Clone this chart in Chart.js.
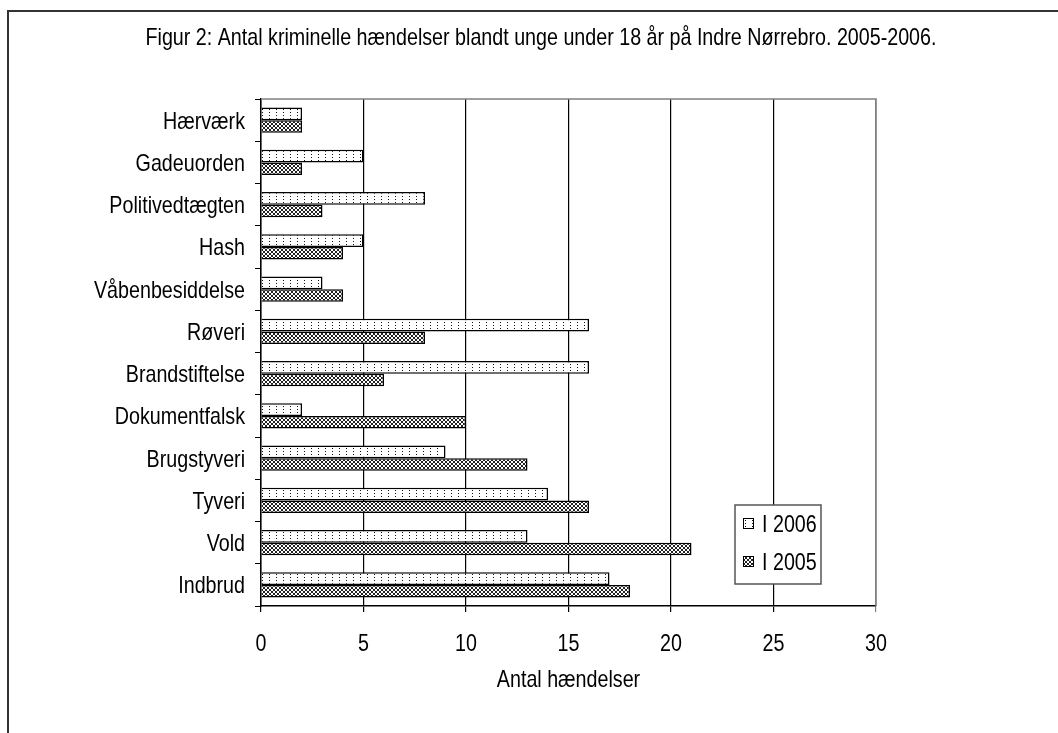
<!DOCTYPE html>
<html>
<head>
<meta charset="utf-8">
<script src="https://cdn.jsdelivr.net/npm/chart.js@4.4.1/dist/chart.umd.min.js"></script>
<style>
  html, body { margin: 0; padding: 0; background: #fff; }
  #wrap { position: relative; width: 1058px; height: 733px; overflow: hidden; }
  #frame { position: absolute; left: 7px; top: 10px; width: 1200px; height: 900px; border-left: 2px solid #333; border-top: 2px solid #333; box-sizing: border-box; }
  canvas { position: absolute; left: 0; top: 0; }
</style>
</head>
<body>
<div id="wrap">
  <div id="frame"></div>
  <canvas id="c" width="1058" height="733"></canvas>
</div>
<script>
const titleText = "Figur 2: Antal kriminelle hændelser blandt unge under 18 år på Indre Nørrebro. 2005-2006.";
const categories = ["Hærværk", "Gadeuorden", "Politivedtægten", "Hash", "Våbenbesiddelse", "Røveri", "Brandstiftelse", "Dokumentfalsk", "Brugstyveri", "Tyveri", "Vold", "Indbrud"];
const seriesNames = ["I 2006", "I 2005"];
const values2006 = [2, 5, 8, 5, 3, 16, 16, 2, 9, 14, 13, 17];
const values2005 = [2, 2, 3, 4, 4, 8, 6, 10, 13, 16, 21, 18];
const xTicks = [0, 5, 10, 15, 20, 25, 30];
const xAxisTitle = "Antal hændelser";

const FONT = '"Liberation Sans", Arial, Helvetica, sans-serif';
const NARROW = 0.82;   // horizontal compression to mimic a narrow face
const FSIZE = 24;
const CAP = 0.716;

function drawNarrow(ctx, text, x, capMid, align, size) {
  ctx.save();
  ctx.translate(x, capMid + size * CAP / 2);
  ctx.scale(NARROW, 1);
  ctx.font = size + 'px ' + FONT;
  ctx.textAlign = align;
  ctx.textBaseline = 'alphabetic';
  ctx.fillStyle = '#000';
  ctx.fillText(text, 0, 0);
  ctx.restore();
}

function dotPattern() {
  const c = document.createElement('canvas'); c.width = 7; c.height = 6;
  const g = c.getContext('2d');
  g.fillStyle = '#fff'; g.fillRect(0, 0, 7, 6);
  g.fillStyle = '#111';
  g.fillRect(3, 1, 1, 1); g.fillRect(3, 4, 1, 1);
  return g.createPattern(c, 'repeat');
}
function crossPattern() {
  const c = document.createElement('canvas'); c.width = 4; c.height = 4;
  const g = c.getContext('2d');
  g.fillStyle = '#fff'; g.fillRect(0, 0, 4, 4);
  g.fillStyle = '#222';
  for (let i = 0; i < 4; i++) { g.fillRect(i, i, 1, 1); g.fillRect(3 - i, i, 1, 1); }
  return g.createPattern(c, 'repeat');
}
const pat2006 = dotPattern();
const pat2005 = crossPattern();

const textPlugin = {
  id: 'textPlugin',
  beforeDatasetsDraw(chart) {
    const a = chart.chartArea, ctx = chart.ctx;
    ctx.save();
    ctx.strokeStyle = '#808080'; ctx.lineWidth = 1.5;
    ctx.beginPath();
    ctx.moveTo(a.left, a.top); ctx.lineTo(a.right, a.top); ctx.lineTo(a.right, a.bottom);
    ctx.stroke();
    ctx.restore();
  },
  afterDraw(chart) {
    const a = chart.chartArea, ctx = chart.ctx;
    const xs = chart.scales.x, ys = chart.scales.y;
    // title
    drawNarrow(ctx, titleText, 541, 36, 'center', FSIZE);
    // category labels
    ys.ticks.forEach((t, i) => {
      drawNarrow(ctx, ys.getLabelForValue(t.value), a.left - 16, ys.getPixelForTick(i), 'right', FSIZE);
    });
    // value tick labels
    xs.ticks.forEach((t, i) => {
      drawNarrow(ctx, String(t.value), xs.getPixelForTick(i), a.bottom + 36, 'center', FSIZE);
    });
    // axis title
    drawNarrow(ctx, xAxisTitle, (a.left + a.right) / 2, a.bottom + 72, 'center', FSIZE);
    // legend
    const bx = a.left + 474, by = a.top + 406, bw = 86, bh = 79;
    ctx.save();
    ctx.fillStyle = '#fff'; ctx.fillRect(bx, by, bw, bh);
    ctx.strokeStyle = '#555'; ctx.lineWidth = 1.5; ctx.strokeRect(bx, by, bw, bh);
    ctx.restore();
    const pats = [pat2006, pat2005];
    chart.data.datasets.forEach((ds, i) => {
      const cy = by + 18 + i * 38;
      ctx.save();
      ctx.fillStyle = pats[i];
      ctx.fillRect(bx + 8, cy - 5, 10, 10);
      ctx.strokeStyle = '#000'; ctx.lineWidth = 1;
      ctx.strokeRect(bx + 8.5, cy - 4.5, 10, 10);
      ctx.restore();
      drawNarrow(ctx, ds.label, bx + 27, cy, 'left', FSIZE);
    });
  }
};

new Chart(document.getElementById('c'), {
  type: 'bar',
  data: {
    labels: categories,
    datasets: [
      { label: seriesNames[0], data: values2006, backgroundColor: pat2006, borderColor: '#000', borderWidth: 1.5, categoryPercentage: 0.6, barPercentage: 1.0 },
      { label: seriesNames[1], data: values2005, backgroundColor: pat2005, borderColor: '#000', borderWidth: 1.5, categoryPercentage: 0.6, barPercentage: 1.0 }
    ]
  },
  options: {
    indexAxis: 'y',
    responsive: false,
    animation: false,
    layout: { padding: { left: 0, right: 182, top: 99, bottom: 0 } },
    plugins: {
      legend: { display: false },
      tooltip: { enabled: false },
      title: { display: false }
    },
    scales: {
      y: {
        type: 'category',
        grid: { drawOnChartArea: false, drawTicks: true, tickLength: 6, color: '#000', offset: true },
        border: { display: true, color: '#000', width: 1.5 },
        ticks: { display: false },
        afterFit(scale) { scale.width = 261; }
      },
      x: {
        min: 0, max: 30,
        afterBuildTicks(scale) { scale.ticks = xTicks.map(v => ({ value: v })); },
        grid: {
          color: ctx => (ctx.tick && ctx.tick.value === 30) ? '#808080' : '#000',
          lineWidth: 1.2, tickLength: 6, drawTicks: true
        },
        border: { display: true, color: '#000', width: 1.5 },
        ticks: { display: false },
        title: { display: false },
        afterFit(scale) { scale.height = 127; }
      }
    }
  },
  plugins: [textPlugin]
});
</script>
</body>
</html>
